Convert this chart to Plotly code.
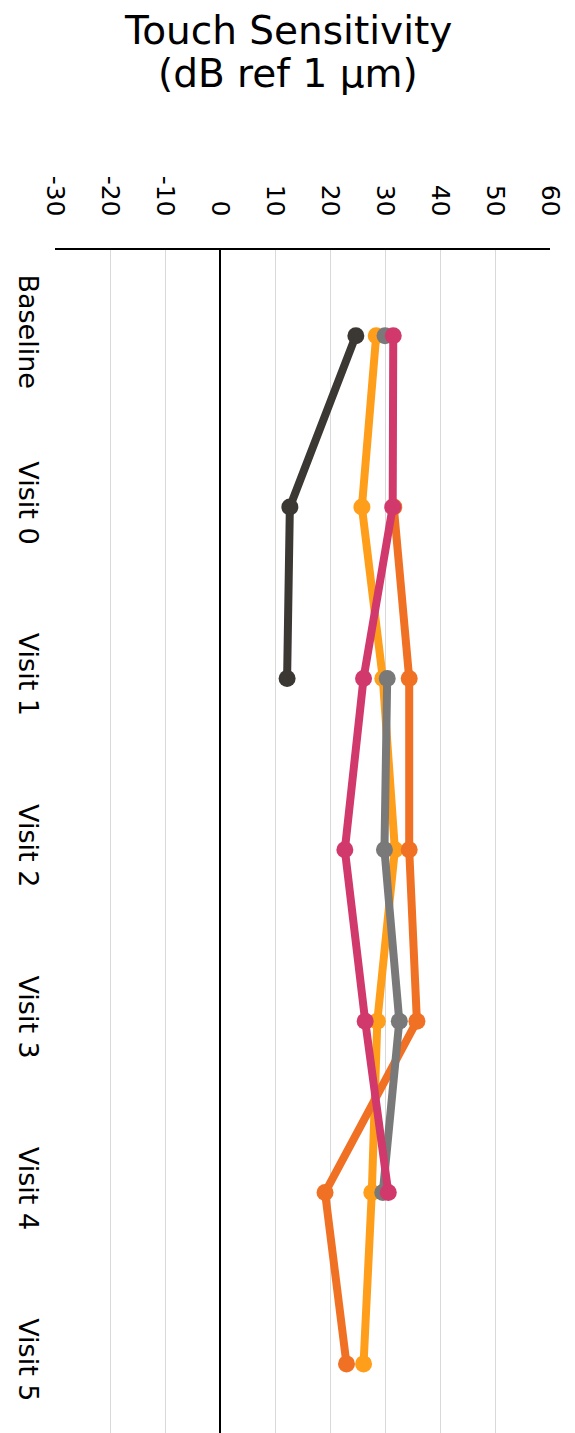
import plotly.graph_objects as go

visits = ["Baseline", "Visit 0", "Visit 1", "Visit 2", "Visit 3", "Visit 4", "Visit 5"]
x_ticks = [-30, -20, -10, 0, 10, 20, 30, 40, 50, 60]
x_tick_text = ["-30", "-20", "-10", "0", "10", "20", "30", "40", "50", "60"]

# one list per participant, None = no measurement
dark = [24.7, 12.7, 12.2, None, None, None, None]
yellow = [28.4, 25.8, 29.6, 31.8, 28.6, 27.6, 26.1]
orange = [None, 31.6, 34.4, 34.4, 35.8, 19.1, 23.0]
grey = [30.0, None, 30.4, 29.9, 32.6, 29.6, None]
pink = [31.5, 31.4, 26.1, 22.7, 26.4, 30.6, None]

series = [
    (dark, "#3b3733"),
    (yellow, "#ff9e1b"),
    (orange, "#f07124"),
    (grey, "#797979"),
    (pink, "#d1396c"),
]

fig = go.Figure()
for vals, col in series:
    fig.add_trace(go.Scatter(
        x=vals, y=visits, mode="lines+markers",
        line=dict(color=col, width=8),
        marker=dict(color=col, size=17),
        connectgaps=False, showlegend=False,
    ))

W, H = 575, 1433
L, R, T = 47, 33, 242
OFF = 8  # page body margin
plot_w = W - L - R
plot_h = H - T


def paper_y(px):
    # pixel row on the page -> paper coordinate
    return 1 + (T - (px - OFF)) / plot_h


def paper_x(px):
    return (px - OFF - L) / plot_w


fig.update_layout(
    width=W, height=H,
    margin=dict(l=L, r=R, t=T, b=0),
    paper_bgcolor="white", plot_bgcolor="white",
    font=dict(family="DejaVu Sans", color="black", size=25),
    annotations=[
        dict(text="Touch Sensitivity", x=paper_x(288), xref="paper", xanchor="center",
             y=paper_y(30), yref="paper", yanchor="middle", showarrow=False,
             font=dict(size=39, color="black")),
        dict(text="(dB ref 1 μm)", x=paper_x(288), xref="paper", xanchor="center",
             y=paper_y(73), yref="paper", yanchor="middle", showarrow=False,
             font=dict(size=39, color="black")),
    ],
)
fig.update_xaxes(
    side="top", range=[-30, 60], tickvals=x_ticks, ticktext=x_tick_text,
    tickangle=90, tickfont=dict(size=25),
    showgrid=True, gridcolor="#d9d9d9", gridwidth=1,
    zeroline=True, zerolinecolor="black", zerolinewidth=1.5,
    showline=True, linecolor="black", linewidth=1.5,
    ticklabelstandoff=23, automargin=False,
)
fig.update_yaxes(
    type="category", categoryarray=visits,
    range=[6.45, -0.5], tickangle=90, tickfont=dict(size=27),
    showgrid=False, zeroline=False, showline=False,
    ticklabelstandoff=8, automargin=False,
)

fig.write_html("out.html")
